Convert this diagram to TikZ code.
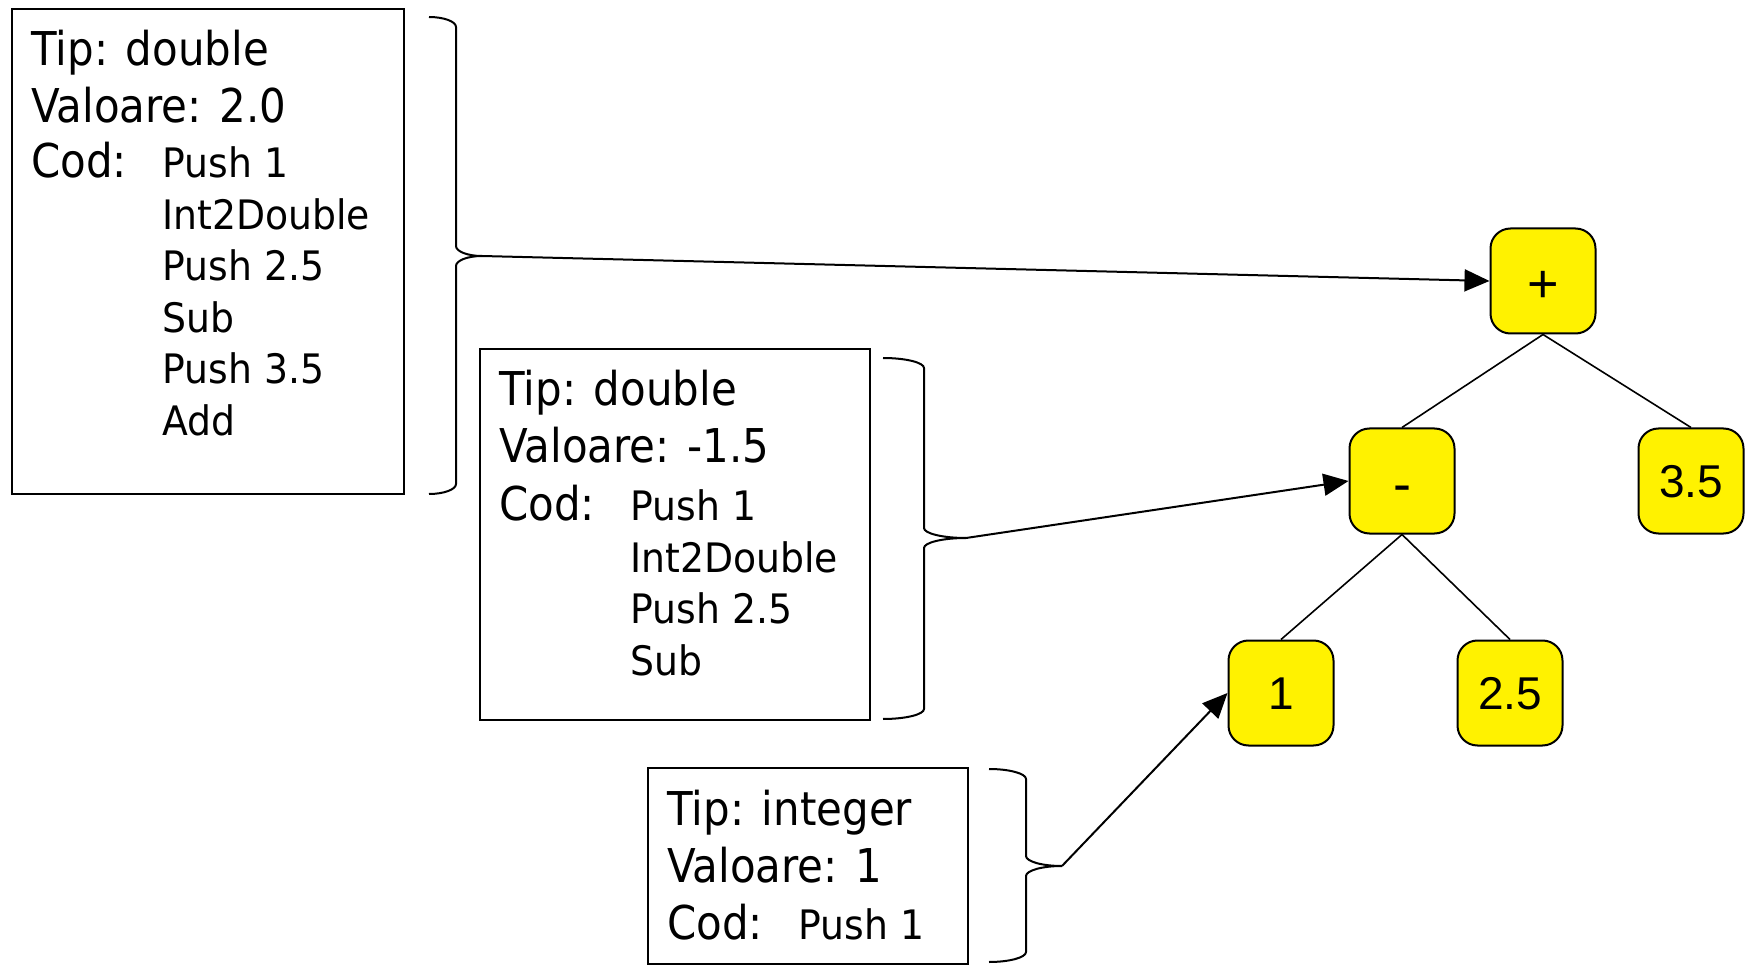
\documentclass[tikz,border=0pt]{standalone}
\usepackage{fontspec}
\setmainfont{DejaVu Sans}[FakeStretch=0.9]
\newfontfamily\codefont{DejaVu Sans}[FakeStretch=0.93]
\newfontfamily\arialfont{Liberation Sans}
\usetikzlibrary{arrows.meta}
\newcommand\bracedraw[6]{% L M R T C B
 \draw[bracestyle] (#1,#4) .. controls ({#1+0.55*(#2-#1)},#4) and (#2,{#4+4.5}) .. (#2,{#4+10})
   -- (#2,{#5-10}) .. controls (#2,{#5-4.5}) and ({#3-0.55*(#3-#2)},#5) .. (#3,#5)
   .. controls ({#3-0.55*(#3-#2)},#5) and (#2,{#5+4.5}) .. (#2,{#5+10})
   -- (#2,{#6-10}) .. controls (#2,{#6-4.5}) and ({#1+0.55*(#2-#1)},#6) .. (#1,#6);}
\begin{document}
\begin{tikzpicture}[x=0.5pt,y=-0.5pt,
  infobox/.style={draw=black, line width=1pt, anchor=north west, inner sep=0pt, outer sep=0pt},
  bigtxt/.style={anchor=base west, inner sep=0pt, font=\fontsize{23.3}{28}\selectfont},
  smalltxt/.style={anchor=base west, inner sep=0pt, font=\codefont\fontsize{20.3}{25}\selectfont},
  treenode/.style={draw=black, line width=1pt, fill=yellow, rounded corners=10pt,
    minimum width=52.5pt, minimum height=52.5pt, inner sep=0pt,
    text height=16.5pt, text depth=0pt,
    font=\arialfont\fontsize{23}{26}\selectfont},
  opnode/.style={treenode, text height=21.5pt, font=\arialfont\fontsize{27}{30}\selectfont},
  treeedge/.style={line width=0.8pt},
  bracestyle/.style={line width=1pt},
  pointer/.style={line width=1pt, -{Triangle[length=12.5pt,width=11pt]}},
]
\path[fill=white] (0,0) rectangle (1758,973);

% tree
\node[opnode] (plus) at (1543,281) {+};
\node[opnode] (minus) at (1402,481) {-};
\node[treenode] (n35) at (1691,481) {3.5};
\node[treenode] (n1) at (1281,693) {1};
\node[treenode] (n25) at (1510,693) {2.5};
\draw[treeedge] (plus.south) -- (minus.north);
\draw[treeedge] (plus.south) -- (n35.north);
\draw[treeedge] (minus.south) -- (n1.north);
\draw[treeedge] (minus.south) -- (n25.north);

% box 1
\node[infobox, minimum width=196pt, minimum height=242.5pt] (box1) at (12,9) {};
\node[bigtxt] (b1a) at (31,66) {Tip: double};
\node[bigtxt] (b1b) at (31,123) {Valoare: 2.0};
\node[bigtxt] (b1c) at (31,178) {Cod:};
\node[smalltxt] (b1d) at (162,178) {Push 1};
\node[smalltxt] (b1e) at (162,230) {Int2Double};
\node[smalltxt] (b1f) at (162,281) {Push 2.5};
\node[smalltxt] (b1g) at (162,333) {Sub};
\node[smalltxt] (b1h) at (162,384) {Push 3.5};
\node[smalltxt] (b1i) at (162,436) {Add};

% box 2
\node[infobox, minimum width=195pt, minimum height=185.5pt] (box2) at (480,349) {};
\node[bigtxt] (b2a) at (499,406) {Tip: double};
\node[bigtxt] (b2b) at (499,463) {Valoare: -1.5};
\node[bigtxt] (b2c) at (499,520) {Cod:};
\node[smalltxt] (b2d) at (630,520) {Push 1};
\node[smalltxt] (b2e) at (630,572) {Int2Double};
\node[smalltxt] (b2f) at (630,623) {Push 2.5};
\node[smalltxt] (b2g) at (630,675) {Sub};

% box 3
\node[infobox, minimum width=160pt, minimum height=98pt] (box3) at (648,768) {};
\node[bigtxt] (b3a) at (667,825) {Tip: integer};
\node[bigtxt] (b3b) at (667,882) {Valoare: 1};
\node[bigtxt] (b3c) at (667,939) {Cod:};
\node[smalltxt] (b3d) at (798,939) {Push 1};

% braces
\bracedraw{429}{456}{482}{17}{256}{494}
\bracedraw{883}{924}{966}{358}{538}{719}
\bracedraw{989}{1026}{1062}{769}{866}{962}
\coordinate (tip1) at (482,256);
\coordinate (tip2) at (966,538);
\coordinate (tip3) at (1062,866);

% pointers
\draw[pointer] (tip1) -- (plus.west);
\draw[pointer] (tip2) -- (minus.west);
\draw[pointer] (tip3) -- (n1.west);
\end{tikzpicture}
\end{document}
